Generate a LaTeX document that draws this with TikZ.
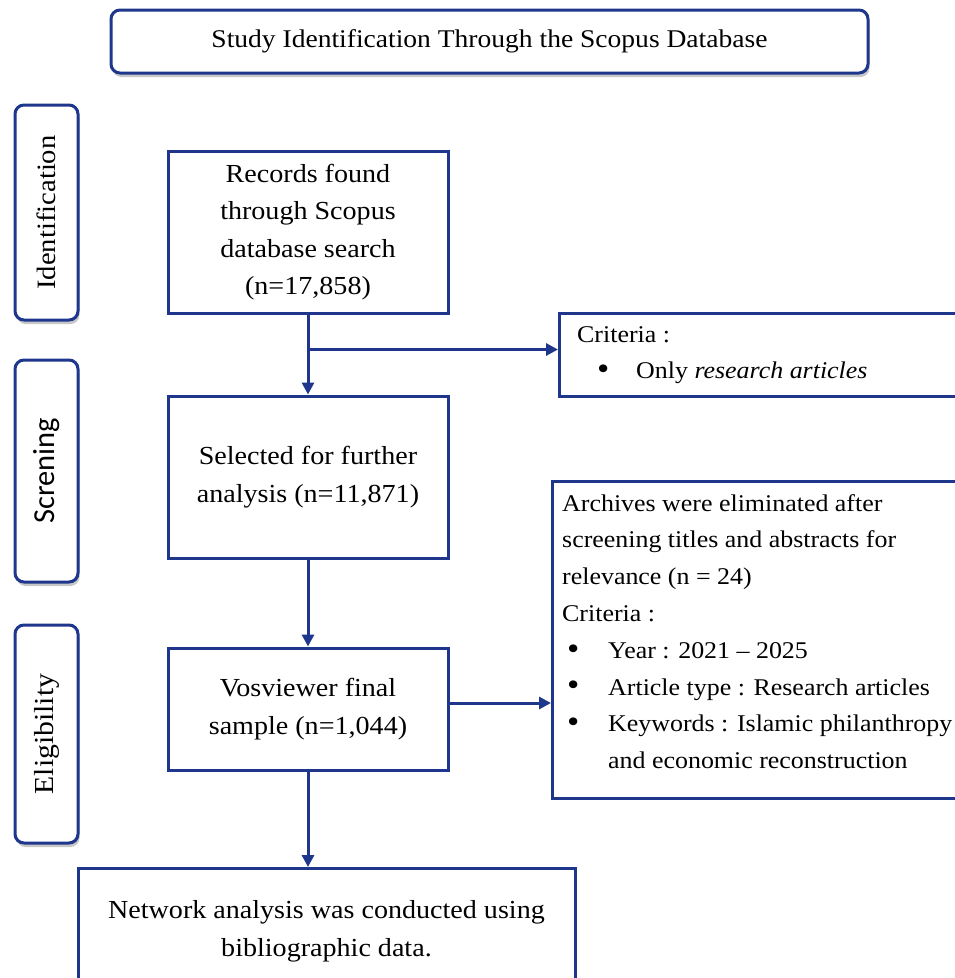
\documentclass[tikz,border=0pt]{standalone}
\usepackage{fontspec}
\usepackage{graphicx}
\setmainfont{Liberation Serif}[FakeStretch=1.08]
\newfontfamily\carl{Carlito}
\usetikzlibrary{arrows.meta,shadows}
\definecolor{navy}{RGB}{30,55,140}
\newcommand{\bigbul}{\makebox[12pt]{\raisebox{-0.8pt}{\scalebox{1.35}{\textbullet}}}}
\begin{document}
\begin{tikzpicture}[x=1pt,y=-1pt,
  box/.style={draw=navy, line width=3pt, fill=white, inner sep=0pt, align=center},
  rbox/.style={box, rounded corners=9pt, drop shadow={shadow xshift=1.5pt, shadow yshift=-4pt, opacity=0.22, fill=black}},
  arr/.style={draw=navy, line width=3pt, -{Triangle[length=12pt,width=12pt]}},
  main/.style={font=\fontsize{26}{37.5}\selectfont},
  side/.style={rotate=90, inner sep=0pt, font=\fontsize{26.5}{30}\selectfont},
  crit/.style={font=\fontsize{24}{36.8}\selectfont, align=left, inner sep=0pt}]
\useasboundingbox[fill=white] (0,0) rectangle (955,978);

% title
\node[rbox, minimum width=757, minimum height=63, font=\fontsize{25.5}{30}\selectfont] (title) at (489.5,41.5) {Study Identification Through the Scopus Database};

% side boxes
\node[rbox, minimum width=63, minimum height=215] (idb) at (46.5,212.5) {};
\node[side] (idt) at (idb) {Identification};
\node[rbox, minimum width=63, minimum height=222] (scb) at (46.5,471) {};
\node[side, font=\carl\fontsize{30.5}{34}\selectfont] (sct) at (scb) {Screning};
\node[rbox, minimum width=63, minimum height=218] (elb) at (46.5,734) {};
\node[side, font=\fontsize{27.5}{30}\selectfont] (elt) at (elb) {Eligibility};

% main flow
\node[box, main, minimum width=280, minimum height=162] (rec) at (308,232) {Records found\\through Scopus\\database search\\(n=17,858)};
\node[box, main, minimum width=280, minimum height=162] (sel) at (308,477) {Selected for further\\analysis (n=11,871)};
\node[box, main, minimum width=280, minimum height=122] (vos) at (308,709) {Vosviewer final\\sample (n=1,044)};
\node[box, main, minimum width=497, minimum height=126, anchor=north] (net) at (326.5,867) {Network analysis was conducted using\\bibliographic data.};

% criteria boxes
\node[box, minimum width=407, minimum height=83, anchor=north west] (crit1) at (558,312) {};
\node[crit, anchor=north west] (c1t) at (577,326) {Criteria :\\\hspace*{20pt}\bigbul\hspace*{27pt}Only \textit{research articles}};
\node[box, minimum width=414, minimum height=317, anchor=north west] (crit2) at (551,480) {};
\node[crit, anchor=north west] (c2t) at (562,494) {Archives were eliminated after\\
screening titles and abstracts for\\
relevance (n = 24)\\
Criteria :\\
\hspace*{5pt}\bigbul\hspace*{29pt}Year : 2021 -- 2025\\
\hspace*{5pt}\bigbul\hspace*{29pt}Article type : Research articles\\
\hspace*{5pt}\bigbul\hspace*{29pt}Keywords : Islamic philanthropy\\
\hspace*{46pt}and economic reconstruction};

% connectors
\draw[arr] (rec) -- (sel);
\coordinate (br) at ([yshift=-35pt]rec.south);
\draw[arr] (br) -- (br -| crit1.west);
\draw[arr] (sel) -- (vos);
\coordinate (va) at ([yshift=6pt]vos.east);
\draw[arr] (va) -- (va -| crit2.west);
\draw[arr] (vos.south) -- (vos.south |- net.north);
\end{tikzpicture}
\end{document}
